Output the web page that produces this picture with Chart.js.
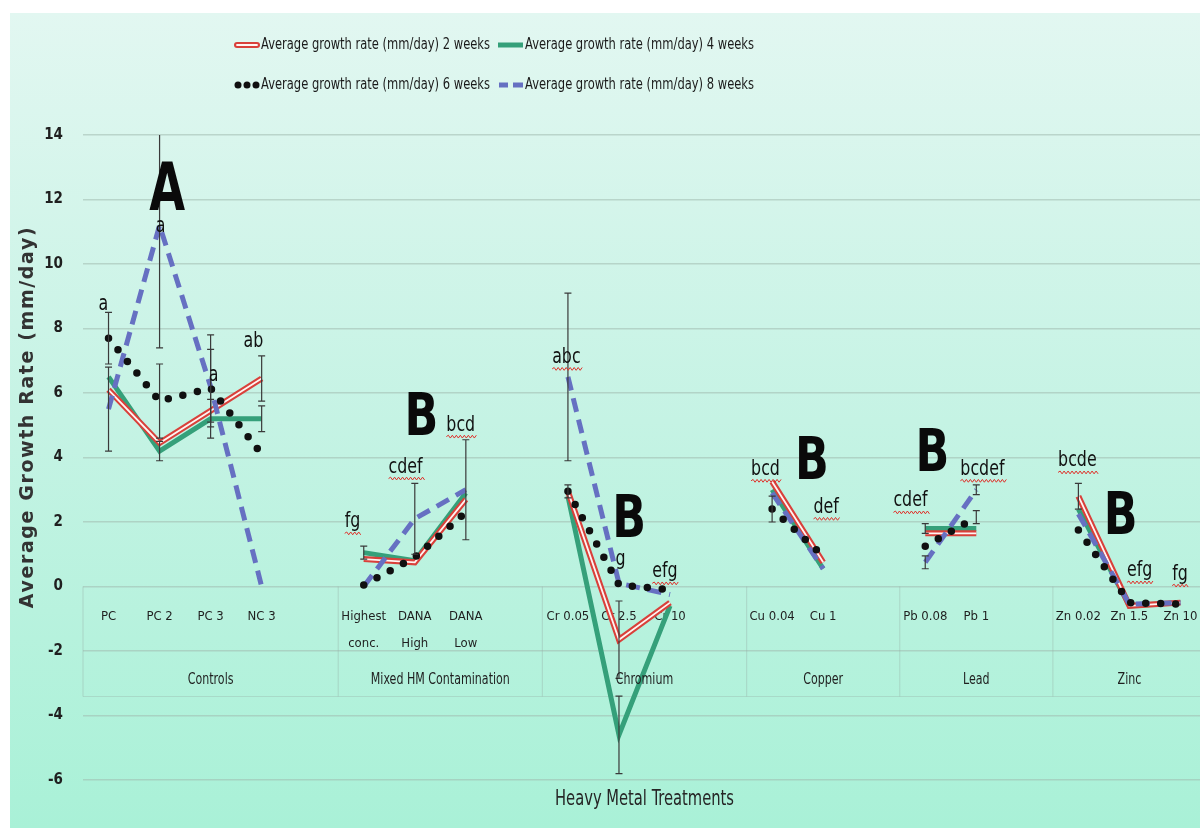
<!DOCTYPE html>
<html>
<head>
<meta charset="utf-8">
<script src="https://cdn.jsdelivr.net/npm/chart.js@4.4.1/dist/chart.umd.min.js"></script>
<style>
    html, body { margin: 0; padding: 0; overflow: hidden; background: #ffffff; }
    canvas { display: block; }
</style>
</head>
<body>
<canvas id="growthChart" width="1212" height="828"></canvas>
<script>
// categories (blank slot closes each group, as in the sheet)
var treatments = ['PC', 'PC 2', 'PC 3', 'NC 3', '',
    ['Highest', 'conc.'], ['DANA', 'High'], ['DANA', 'Low'], '',
    'Cr 0.05', 'Cr 2.5', 'Cr 10', '',
    'Cu 0.04', 'Cu 1', '',
    'Pb 0.08', 'Pb 1', '',
    'Zn 0.02', 'Zn 1.5', 'Zn 10'];
var groupNames = ['Controls', 'Mixed HM Contamination', 'Chromium', 'Copper', 'Lead', 'Zinc'];
var groupSizes = [5, 4, 4, 3, 3, 3];
var yTickValues = [-6, -4, -2, 0, 2, 4, 6, 8, 10, 12, 14];

var seriesNames = [
    'Average growth rate (mm/day) 2 weeks',
    'Average growth rate (mm/day) 4 weeks',
    'Average growth rate (mm/day) 6 weeks',
    'Average growth rate (mm/day) 8 weeks'
];

var week2 = [6.1, 4.45, 5.45, 6.45, null, 0.85, 0.75, 2.7, null, 2.95, -1.65, -0.5, null, 3.25, 0.75, null, 1.65, 1.65, null, 2.8, -0.6, -0.5];
var week4 = [6.5, 4.2, 5.2, 5.2, null, 1.05, 0.8, 2.9, null, 2.8, -4.6, -0.6, null, 3.0, 0.55, null, 1.8, 1.8, null, 2.4, -0.6, -0.5];
var week6 = [7.7, 5.75, 6.15, 4.1, null, 0.05, 0.9, 2.3, null, 2.95, 0.05, -0.1, null, 2.4, 0.95, null, 1.25, 2.15, null, 1.75, -0.5, -0.55];
var week8 = [5.5, 11.2, 6.2, 0.0, null, 0.0, 2.1, 3.0, null, 6.5, 0.1, -0.25, null, 2.9, 0.55, null, 0.75, 3.0, null, 2.25, -0.55, -0.5];

// standard errors (null = no bar visible)
var err2 = [null, null, 0.35, 0.7, null, null, null, null, null, null, 1.2, null, null, null, null, null, null, null, null, 0.4, null, null];
var err4 = [null, 0.3, null, 0.4, null, 0.2, null, null, null, null, 1.2, null, null, null, null, null, 0.15, null, null, null, null, null];
var err6 = [0.8, 1.15, 1.2, null, null, null, null, null, null, 0.2, null, null, null, 0.4, null, null, null, 0.2, null, null, null, null];
var err8 = [1.3, 3.8, 1.6, null, null, null, 1.1, 1.55, null, 2.6, null, null, null, null, null, null, 0.2, 0.15, null, null, null, null];

// significance letters: text, category position, value
var sigText = ['a', 'a', 'a', 'ab', 'fg', 'cdef', 'bcd', 'abc', 'g', 'efg', 'bcd', 'def', 'cdef', 'bcdef', 'bcde', 'efg', 'fg'];
var sigX = [-0.1, 1.02, 2.06, 2.84, 4.78, 5.82, 6.9, 8.97, 10.03, 10.9, 12.87, 14.06, 15.71, 17.12, 18.98, 20.2, 20.99];
var sigY = [8.8, 11.2, 6.6, 7.65, 2.05, 3.75, 5.05, 7.15, 0.87, 0.5, 3.68, 2.5, 2.7, 3.68, 3.94, 0.53, 0.43];
var sigWavy = [false, false, false, false, true, true, true, true, false, true, true, true, true, true, true, true, true];

// group letters
var bigText = ['A', 'B', 'B', 'B', 'B', 'B'];
var bigX = [1.15, 6.13, 10.2, 13.78, 16.14, 19.83];
var bigY = [12.2, 5.15, 2.0, 3.8, 4.05, 2.1];

var narrow = '"Liberation Sans Narrow", "Arial Narrow", "DejaVu Sans Condensed", sans-serif';
var RED = '#d9403a', GREEN = '#35a07a', BLACK = '#101010', BLUE = '#6670c2';

// squeezed text, the sheet uses a condensed face
function fillNarrow(ctx, text, x, y, sx) {
    ctx.save();
    ctx.translate(x, y);
    ctx.scale(sx, 1);
    ctx.fillText(text, 0, 0);
    ctx.restore();
}

function drawWavy(ctx, x1, x2, y) {
    ctx.beginPath();
    ctx.moveTo(x1, y);
    var up = true;
    for (var x = x1; x < x2; x += 2) {
        ctx.lineTo(x + 2, up ? y - 1.4 : y + 1.4);
        up = !up;
    }
    ctx.stroke();
}

function drawLegendSymbol(ctx, i, x, y) {
    ctx.save();
    if (i === 0) {
        ctx.lineCap = 'round';
        ctx.strokeStyle = RED; ctx.lineWidth = 6;
        ctx.beginPath(); ctx.moveTo(x + 3, y); ctx.lineTo(x + 23, y); ctx.stroke();
        ctx.strokeStyle = '#fff4f2'; ctx.lineWidth = 1.8;
        ctx.beginPath(); ctx.moveTo(x + 3, y); ctx.lineTo(x + 23, y); ctx.stroke();
    } else if (i === 1) {
        ctx.strokeStyle = GREEN; ctx.lineWidth = 5;
        ctx.beginPath(); ctx.moveTo(x, y); ctx.lineTo(x + 25, y); ctx.stroke();
    } else if (i === 2) {
        ctx.fillStyle = BLACK;
        [4, 13, 22].forEach(function (dx) {
            ctx.beginPath(); ctx.arc(x + dx, y, 3.5, 0, Math.PI * 2); ctx.fill();
        });
    } else {
        ctx.strokeStyle = BLUE; ctx.lineWidth = 5;
        ctx.beginPath(); ctx.moveTo(x + 1, y); ctx.lineTo(x + 10, y); ctx.stroke();
        ctx.beginPath(); ctx.moveTo(x + 15, y); ctx.lineTo(x + 25, y); ctx.stroke();
    }
    ctx.restore();
}

var extras = {
    id: 'extras',
    beforeDraw: function (chart) {
        var ctx = chart.ctx;
        ctx.save();
        ctx.fillStyle = '#ffffff';
        ctx.fillRect(0, 0, chart.width, chart.height);
        var g = ctx.createLinearGradient(0, 13, 0, chart.height);
        g.addColorStop(0, '#e2f7f1');
        g.addColorStop(0.5, '#c5f3e4');
        g.addColorStop(1, '#a9f1d7');
        ctx.fillStyle = g;
        ctx.fillRect(10, 13, chart.width - 10, chart.height - 13);
        ctx.restore();
    },
    beforeDatasetsDraw: function (chart) {
        // category table lines under the zero line
        var ctx = chart.ctx, ys = chart.scales.y, area = chart.chartArea;
        var y0 = ys.getPixelForValue(0);
        var slot = (area.right - area.left) / treatments.length;
        ctx.save();
        ctx.strokeStyle = 'rgba(150,175,165,0.35)';
        ctx.lineWidth = 1.2;
        var pos = 0;
        for (var g = 0; g <= groupSizes.length; g++) {
            var x = area.left + pos * slot;
            ctx.beginPath(); ctx.moveTo(x, y0); ctx.lineTo(x, y0 + 110); ctx.stroke();
            if (g < groupSizes.length) pos += groupSizes[g];
        }
        ctx.beginPath(); ctx.moveTo(area.left, y0 + 110); ctx.lineTo(area.right, y0 + 110); ctx.stroke();
        ctx.restore();
    },
    afterDatasetsDraw: function (chart) {
        var ctx = chart.ctx, xs = chart.scales.x, ys = chart.scales.y, area = chart.chartArea;
        var y0 = ys.getPixelForValue(0);

        // error bars
        ctx.save();
        ctx.beginPath();
        ctx.rect(area.left, area.top, area.right - area.left, area.bottom - area.top);
        ctx.clip();
        ctx.strokeStyle = '#3a3a3a';
        ctx.lineWidth = 1.2;
        [[week2, err2], [week4, err4], [week6, err6], [week8, err8]].forEach(function (pair) {
            pair[0].forEach(function (v, i) {
                var e = pair[1][i];
                if (v === null || e === null) return;
                var x = xs.getPixelForValue(i);
                var yt = ys.getPixelForValue(v + e), yb = ys.getPixelForValue(v - e);
                ctx.beginPath();
                ctx.moveTo(x, yt); ctx.lineTo(x, yb);
                ctx.moveTo(x - 3.5, yt); ctx.lineTo(x + 3.5, yt);
                ctx.moveTo(x - 3.5, yb); ctx.lineTo(x + 3.5, yb);
                ctx.stroke();
            });
        });
        ctx.restore();

        ctx.save();
        // group labels
        ctx.fillStyle = '#1f1f1f';
        ctx.font = '15px ' + narrow;
        ctx.textAlign = 'center';
        ctx.textBaseline = 'middle';
        var pos = 0;
        groupNames.forEach(function (name, g) {
            var mid = pos + groupSizes[g] / 2 - 0.5;
            fillNarrow(ctx, name, xs.getPixelForValue(mid), y0 + 94, 0.82);
            pos += groupSizes[g];
        });

        // significance letters
        ctx.font = '22px ' + narrow;
        ctx.textBaseline = 'alphabetic';
        sigText.forEach(function (t, i) {
            var x = xs.getPixelForValue(sigX[i]);
            var y = ys.getPixelForValue(sigY[i]) + 7;
            ctx.fillStyle = '#111111';
            fillNarrow(ctx, t, x, y, 0.8);
            if (sigWavy[i]) {
                var w = ctx.measureText(t).width * 0.8;
                ctx.strokeStyle = '#e0302a';
                ctx.lineWidth = 1;
                drawWavy(ctx, x - w / 2, x + w / 2, y + 6);
            }
        });

        // group letters
        ctx.fillStyle = '#0a0a0a';
        ctx.textBaseline = 'middle';
        bigText.forEach(function (t, i) {
            ctx.font = 'bold ' + (t === 'A' ? 66 : 58) + 'px ' + narrow;
            fillNarrow(ctx, t, xs.getPixelForValue(bigX[i]), ys.getPixelForValue(bigY[i]), t === 'A' ? 0.78 : 0.85);
        });

        // axis titles
        ctx.fillStyle = '#262626';
        ctx.font = '21px ' + narrow;
        fillNarrow(ctx, 'Heavy Metal Treatments', (area.left + area.right) / 2, 800, 0.78);
        ctx.translate(28, 417);
        ctx.rotate(-Math.PI / 2);
        ctx.font = '600 19px "DejaVu Sans", sans-serif';
        ctx.letterSpacing = '1.6px';
        ctx.fillStyle = '#333333';
        ctx.fillText('Average Growth Rate (mm/day)', 0, 0);
        ctx.restore();

        // legend, two rows
        ctx.save();
        ctx.font = '16px ' + narrow;
        ctx.fillStyle = '#1a1a1a';
        ctx.textBaseline = 'middle';
        ctx.textAlign = 'left';
        [[0, 1], [2, 3]].forEach(function (row, r) {
            var y = 45 + r * 40;
            var widths = row.map(function (i) { return 27 + ctx.measureText(seriesNames[i]).width * 0.8; });
            var total = widths[0] + widths[1] + 8;
            var x = 494 - total / 2;
            row.forEach(function (i, k) {
                drawLegendSymbol(ctx, i, x, y);
                fillNarrow(ctx, seriesNames[i], x + 27, y, 0.8);
                x += widths[k] + 8;
            });
        });
        ctx.restore();
    }
};

var ctxGrowth = document.getElementById('growthChart').getContext('2d');
var growthChart = new Chart(ctxGrowth, {
    type: 'line',
    data: {
        labels: treatments,
        datasets: [
            { label: seriesNames[2], data: week6, borderColor: BLACK, borderWidth: 7.5, borderDash: [0, 15], borderCapStyle: 'round', order: 0 },
            { label: seriesNames[3], data: week8, borderColor: BLUE, borderWidth: 5, borderDash: [14, 8], order: 1 },
            { label: '', data: week2, borderColor: '#fff4f2', borderWidth: 1.8, order: 2 },
            { label: seriesNames[0], data: week2, borderColor: RED, borderWidth: 6, order: 3 },
            { label: seriesNames[1], data: week4, borderColor: GREEN, borderWidth: 5, order: 4 }
        ]
    },
    options: {
        responsive: false,
        animation: false,
        devicePixelRatio: 1,
        layout: { padding: { top: 135, right: 6, bottom: 48, left: 0 } },
        elements: { point: { radius: 0 }, line: { tension: 0 } },
        plugins: { legend: { display: false }, tooltip: { enabled: false } },
        scales: {
            x: {
                type: 'category',
                position: { y: 0 },
                offset: true,
                grid: { display: false },
                border: { display: false },
                ticks: {
                    autoSkip: false,
                    maxRotation: 0,
                    padding: 8,
                    color: '#1f1f1f',
                    font: { family: narrow, size: 13, lineHeight: 2.1 }
                }
            },
            y: {
                min: yTickValues[0],
                max: yTickValues[yTickValues.length - 1],
                afterFit: function (scale) { scale.width = 83; },
                afterBuildTicks: function (scale) {
                    scale.ticks = yTickValues.map(function (v) { return { value: v }; });
                },
                border: { display: false },
                grid: { color: 'rgba(160,185,175,0.55)', lineWidth: 1.5, drawTicks: false },
                ticks: {
                    padding: 20,
                    color: '#1f1f1f',
                    font: { family: narrow, size: 15, weight: 'bold' }
                }
            }
        }
    },
    plugins: [extras]
});
</script>
</body>
</html>
